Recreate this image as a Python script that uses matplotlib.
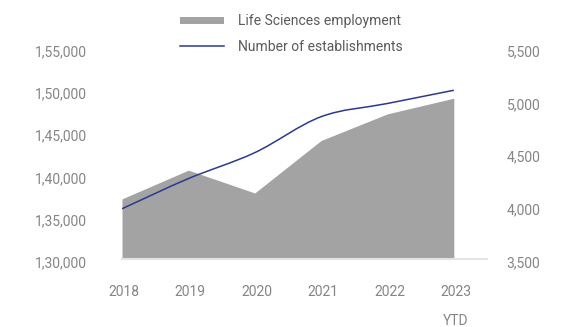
import numpy as np
import matplotlib
matplotlib.use("Agg")
import matplotlib.pyplot as plt
from matplotlib.path import Path
from matplotlib.patches import PathPatch, Patch
from matplotlib.lines import Line2D
from matplotlib.ticker import FuncFormatter
from matplotlib.transforms import ScaledTranslation

plt.rcParams['font.family'] = ['Roboto', 'DejaVu Sans']

years = ["2018", "2019", "2020", "2021", "2022", "2023\nYTD"]
employment = [137100, 140500, 137800, 144000, 147150, 149000]
establishments = [3975, 4260, 4505, 4845, 4970, 5095]

emp_ticks = [130000, 135000, 140000, 145000, 150000, 155000]
est_ticks = [3500, 4000, 4500, 5000, 5500]

AREA = "#a3a3a3"
LINE = "#2b3990"
TXT = "#858585"


def indian(v, pos=None):
    v = int(round(v))
    return f"{v // 100000},{(v % 100000) // 1000:02d},{v % 1000:03d}"


def smooth_path(xs, ys):
    # catmull-rom tangents turned into cubic bezier segments
    pts = np.column_stack([xs, ys]).astype(float)
    n = len(pts)
    tang = np.zeros_like(pts)
    tang[0] = pts[1] - pts[0]
    tang[-1] = pts[-1] - pts[-2]
    for i in range(1, n - 1):
        tang[i] = (pts[i + 1] - pts[i - 1]) / 2
    verts = [pts[0]]
    codes = [Path.MOVETO]
    for i in range(n - 1):
        verts += [pts[i] + tang[i] / 3, pts[i + 1] - tang[i + 1] / 3, pts[i + 1]]
        codes += [Path.CURVE4] * 3
    return Path(verts, codes)


fig = plt.figure(figsize=(5.63, 3.27), dpi=100)
ax = fig.add_axes([0.2167, 0.208, 0.6483, 0.647])
x = np.arange(len(years))

ax.fill_between(x, employment, emp_ticks[0], color=AREA, linewidth=0)
ax.set_xlim(0, 5.5)
ax.set_ylim(emp_ticks[0], emp_ticks[-1])
ax.set_yticks(emp_ticks)
ax.yaxis.set_major_formatter(FuncFormatter(indian))
ax.set_xticks(x)
ax.set_xticklabels(years)

ax2 = ax.twinx()
ax2.set_ylim(est_ticks[0], est_ticks[-1])
ax2.set_yticks(est_ticks)
ax2.yaxis.set_major_formatter(FuncFormatter(lambda v, p: f"{int(v):,}"))
ax2.add_patch(PathPatch(smooth_path(x, establishments), facecolor="none",
                        edgecolor=LINE, linewidth=1.1))

for a in (ax, ax2):
    for s in a.spines.values():
        s.set_visible(False)
ax.spines['bottom'].set_visible(True)
ax.spines['bottom'].set_color("#e3e3e3")
ax.spines['bottom'].set_linewidth(1.5)

ax.tick_params(axis='y', length=0, pad=25, labelsize=10, labelcolor=TXT)
ax.tick_params(axis='x', length=0, pad=19, labelsize=10, labelcolor=TXT)
ax2.tick_params(axis='y', length=0, pad=14, labelsize=10, labelcolor=TXT)
for lab in ax.get_xticklabels():
    lab.set_linespacing(2.3)

# value labels sit a little below their tick positions
down = ScaledTranslation(0, -3 / 100, fig.dpi_scale_trans)
right = ScaledTranslation(2 / 100, 0, fig.dpi_scale_trans)
for t in ax.yaxis.get_major_ticks():
    t.label1.set_transform(t.label1.get_transform() + down)
for t in ax2.yaxis.get_major_ticks():
    t.label2.set_transform(t.label2.get_transform() + down)
for t in ax.xaxis.get_major_ticks():
    t.label1.set_transform(t.label1.get_transform() + right)

handles = [Patch(facecolor=AREA, edgecolor="none"),
           Line2D([], [], color=LINE, linewidth=1.1)]
fig.legend(handles, ["Life Sciences employment", "Number of establishments"],
           loc="upper left", bbox_to_anchor=(180 / 563, 1 - 14.5 / 327),
           frameon=False, borderpad=0, borderaxespad=0, handlelength=3.2,
           handleheight=0.47, handletextpad=0.95, labelspacing=0.8,
           prop={'size': 10}, labelcolor="#5a5a5a")

fig.savefig("out.png", dpi=100)
